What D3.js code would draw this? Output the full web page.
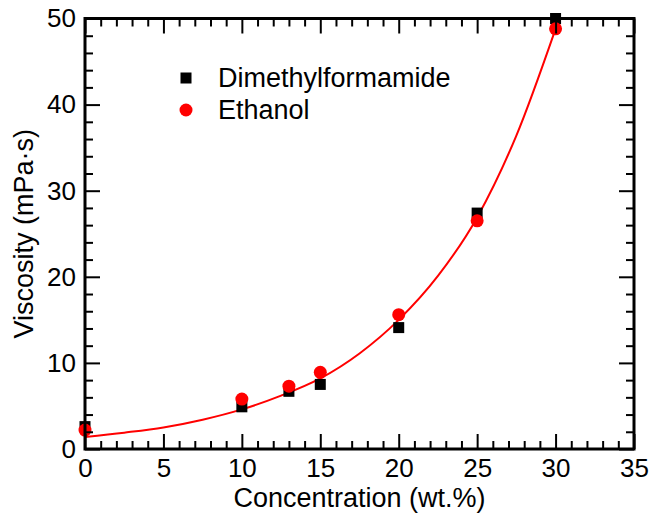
<!DOCTYPE html>
<html>
<head>
<meta charset="utf-8">
<script src="https://cdn.jsdelivr.net/npm/d3@7"></script>
<style>
  body { margin: 0; background: #fff; }
  svg { display: block; font-family: "Liberation Sans", Arial, Helvetica, sans-serif; }
  .axis text { font-size: 26px; fill: #000; }
  .axis line { stroke: #000; stroke-width: 2; }
</style>
</head>
<body>
<script>
// measured concentrations (wt.%)
var concentration = [0, 10, 13, 15, 20, 25, 30];
var dmf = [2.6, 4.9, 6.7, 7.5, 14.1, 27.4, 50.0];
var ethanol = [2.2, 5.8, 7.3, 8.9, 15.6, 26.5, 48.8];

// fitted curve
var fitX = [0, 2.5, 5, 7.5, 10, 12.5, 15, 17.5, 20, 22.5, 25, 27.5, 30];
var fitY = [1.4, 1.9, 2.5, 3.4, 4.6, 6.2, 8.2, 11.1, 15.0, 20.1, 26.9, 36.4, 48.8];

var xTicks = [0, 5, 10, 15, 20, 25, 30, 35];
var yTicks = [0, 10, 20, 30, 40, 50];

var width = 663, height = 514;
var plotL = 85, plotR = 634, plotT = 18.5, plotB = 449;

var svg = d3.select('body').append('svg')
    .attr('width', width)
    .attr('height', height);

var x = d3.scaleLinear().domain([0, 35]).range([plotL, plotR]);
var y = d3.scaleLinear().domain([0, 50]).range([plotB, plotT]);

var xMinor = d3.range(0, 36, 1).filter(function(d) { return d % 5; });
var yMinor = d3.range(0, 51, 2).filter(function(d) { return d % 10; });

// fit line
var line = d3.line()
    .x(function(d) { return x(d[0]); })
    .y(function(d) { return y(d[1]); })
    .curve(d3.curveMonotoneX);

svg.append('path')
    .datum(d3.zip(fitX, fitY))
    .attr('d', line)
    .attr('fill', 'none')
    .attr('stroke', '#ff0000')
    .attr('stroke-width', 2);

// markers
svg.append('g').selectAll('rect')
    .data(d3.zip(concentration, dmf))
    .enter().append('rect')
    .attr('x', function(d) { return x(d[0]) - 5.5; })
    .attr('y', function(d) { return y(d[1]) - 5.5; })
    .attr('width', 11)
    .attr('height', 11)
    .attr('fill', '#000');

svg.append('g').selectAll('circle')
    .data(d3.zip(concentration, ethanol))
    .enter().append('circle')
    .attr('cx', function(d) { return x(d[0]); })
    .attr('cy', function(d) { return y(d[1]); })
    .attr('r', 6.5)
    .attr('fill', '#ff0000');

// axes, ticks point inward
function axisPair(axisFn, scale, major, minor, transform, pad, labels) {
  var gMin = svg.append('g').attr('class', 'axis').attr('transform', transform)
      .call(axisFn(scale).tickValues(minor).tickSize(-8).tickFormat(''));
  gMin.select('.domain').remove();
  var gMaj = svg.append('g').attr('class', 'axis').attr('transform', transform)
      .call(axisFn(scale).tickValues(major).tickSize(-15).tickPadding(pad)
        .tickFormat(labels ? d3.format('d') : ''));
  gMaj.select('.domain').remove();
  return gMaj;
}

axisPair(d3.axisBottom, x, xTicks, xMinor, 'translate(0,' + plotB + ')', 10, true);
axisPair(d3.axisTop, x, xTicks, xMinor, 'translate(0,' + plotT + ')', 10, false);
axisPair(d3.axisLeft, y, yTicks, yMinor, 'translate(' + plotL + ',0)', 9, true);
axisPair(d3.axisRight, y, yTicks, yMinor, 'translate(' + plotR + ',0)', 9, false);

svg.append('rect')
    .attr('x', plotL)
    .attr('y', plotT)
    .attr('width', plotR - plotL)
    .attr('height', plotB - plotT)
    .attr('fill', 'none')
    .attr('stroke', '#000')
    .attr('stroke-width', 3);

// axis titles
svg.append('text')
    .attr('x', (plotL + plotR) / 2)
    .attr('y', 507)
    .attr('text-anchor', 'middle')
    .style('font-size', '27px')
    .text('Concentration (wt.%)');

svg.append('text')
    .attr('transform', 'translate(33,' + (plotT + plotB) / 2 + ') rotate(-90)')
    .attr('text-anchor', 'middle')
    .style('font-size', '27px')
    .text('Viscosity (mPa\u00b7s)');

// legend
var legend = svg.append('g');
legend.append('rect')
    .attr('x', 180.5).attr('y', 72.5)
    .attr('width', 11).attr('height', 11)
    .attr('fill', '#000');
legend.append('circle')
    .attr('cx', 186).attr('cy', 110)
    .attr('r', 6.5)
    .attr('fill', '#ff0000');
legend.append('text')
    .attr('x', 218).attr('y', 87)
    .style('font-size', '27px')
    .text('Dimethylformamide');
legend.append('text')
    .attr('x', 218).attr('y', 119)
    .style('font-size', '27px')
    .text('Ethanol');
</script>
</body>
</html>
